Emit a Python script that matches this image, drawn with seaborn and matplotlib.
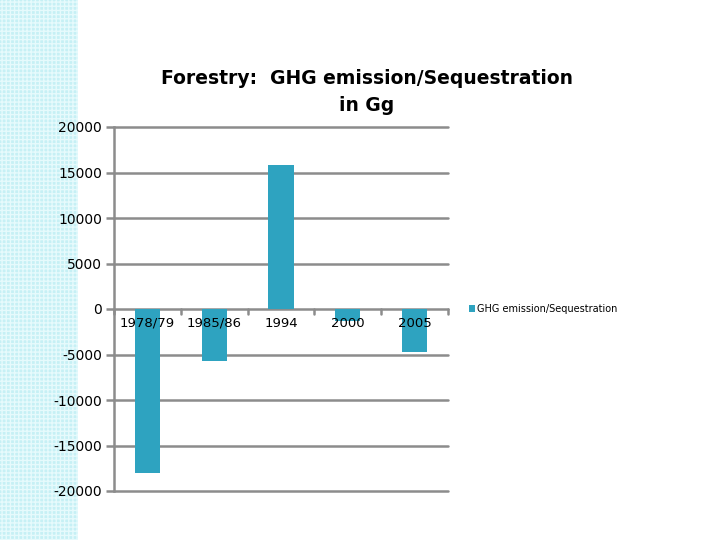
import numpy as np
import pandas as pd
import matplotlib.pyplot as plt
from matplotlib.patches import Rectangle
import seaborn as sns

sns.set_style('white')
plt.rcParams['font.family'] = ['DejaVu Sans']
plt.rcParams['text.color'] = 'black'
plt.rcParams['ytick.labelcolor'] = 'black'

# Data (Gg)
years = ['1978/79', '1985/86', '1994', '2000', '2005']
emission = [-18000, -5700, 15800, -1300, -4700]
y_ticks = [-20000, -15000, -10000, -5000, 0, 5000, 10000, 15000, 20000]

df = pd.DataFrame({'year': years, 'value': emission})

fig = plt.figure(figsize=(7.2, 5.4), dpi=100)
fig.patch.set_facecolor('white')

# light cyan strip on the left
fig.patches.append(Rectangle((0, 0), 78 / 720, 1, transform=fig.transFigure,
                             facecolor='#c6f0f5', edgecolor='#e6fafc', hatch='++++',
                             linewidth=0, zorder=-5))

ax = fig.add_axes([114 / 720, 1 - 491 / 540, 334 / 720, 364 / 540])
ax.set_facecolor('none')
ax.set_zorder(2)

sns.barplot(data=df, x='year', y='value', color='#2ea3c0', width=0.375,
            saturation=1, linewidth=0, label='GHG emission/Sequestration',
            ax=ax, zorder=3)

ax.set_ylim(-20000, 20000)
ax.set_xlim(-0.5, 4.5)
ax.set_yticks(y_ticks)
ax.set_yticklabels([str(v) for v in y_ticks])
for v in y_ticks:
    ax.axhline(v, color='#8c8c8c', linewidth=1.8, zorder=1, clip_on=False)

ax.set_xlabel('')
ax.set_ylabel('')

for s in ['top', 'right', 'bottom']:
    ax.spines[s].set_visible(False)
ax.spines['left'].set_color('#8c8c8c')
ax.spines['left'].set_linewidth(1.8)

# y ticks
ax.tick_params(axis='y', left=True, length=6, width=1.8, color='#8c8c8c',
               labelsize=10, pad=2.5)

# x labels just under the zero line, ticks at category boundaries
ax.tick_params(axis='x', bottom=False, labelbottom=False)
for i, lab in enumerate(years):
    ax.annotate(lab, (i, 0), xytext=(0, -5.5), textcoords='offset points',
                ha='center', va='top', fontsize=9.5, zorder=4)
for b in np.arange(-0.5, 5.0, 1.0):
    ax.plot([b, b], [0, -500], color='#8c8c8c', linewidth=1.8, zorder=2,
            clip_on=False)

ax.legend(loc='center left', bbox_to_anchor=(460 / 720, 1 - 309 / 540),
          bbox_transform=fig.transFigure, frameon=False, fontsize=7,
          handlelength=0.6, handleheight=0.6, handletextpad=0.3)

fig.text(367 / 720, 1 - 92 / 540, 'Forestry:  GHG emission/Sequestration\nin Gg',
         ha='center', va='center', fontsize=13.5, fontweight='bold',
         linespacing=1.55)

fig.savefig('out.png', dpi=100)
